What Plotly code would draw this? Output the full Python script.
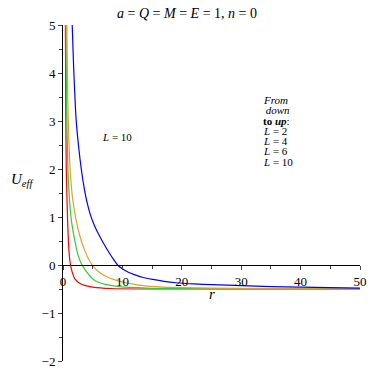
import plotly.graph_objects as go

# Effective potential curves
r_L2 = [0.36, 0.4, 0.48, 0.55, 0.77, 1.0, 1.15, 1.3, 1.6, 2.0, 2.8, 3.8, 5.0, 8, 15, 25, 50]
u_L2 = [5.6, 5.0, 3.0, 2.0, 0.94, 0.3, 0.1, -0.02, -0.17, -0.29, -0.38, -0.43, -0.46, -0.49, -0.5, -0.5, -0.5]

r_L4 = [0.45, 0.5, 0.6, 0.83, 1.1, 1.4, 2.0, 2.5, 3.0, 3.4, 4.2, 5.0, 6.0, 7.3, 9.5, 14, 20, 30, 50]
u_L4 = [5.6, 5.0, 3.4, 2.0, 1.35, 0.94, 0.5, 0.22, 0.05, -0.04, -0.18, -0.29, -0.36, -0.41, -0.45, -0.48, -0.49, -0.5, -0.5]

r_L6 = [0.58, 0.65, 0.8, 1.0, 1.2, 1.6, 2.2, 2.8, 3.6, 4.2, 4.9, 6.0, 7.3, 9, 11, 13.5, 16.8, 20, 25, 35, 50]
u_L6 = [5.6, 5.0, 3.5, 2.55, 2.0, 1.4, 0.94, 0.62, 0.32, 0.15, 0.0, -0.14, -0.24, -0.32, -0.38, -0.43, -0.46, -0.47, -0.48, -0.49, -0.5]

r_L10 = [1.4, 1.55, 1.8, 2.2, 2.6, 3.1, 3.6, 4.0, 4.6, 5.3, 6.0, 6.7, 7.8, 8.6, 9.2, 10, 11, 12,
         13.5, 15.1, 17, 19, 22, 25, 30, 35, 40, 45, 50]
u_L10 = [5.6, 5.0, 4.1, 3.05, 2.5, 1.98, 1.58, 1.33, 1.05, 0.82, 0.64, 0.48, 0.25, 0.1, 0.0, -0.08, -0.15, -0.2,
         -0.26, -0.3, -0.34, -0.37, -0.395, -0.41, -0.43, -0.45, -0.46, -0.47, -0.48]

curves = [
    (r_L2, u_L2, "#ff0000"),
    (r_L4, u_L4, "#33cc33"),
    (r_L6, u_L6, "#e0a030"),
    (r_L10, u_L10, "#0000ff"),
]
note_lines = ["<i>From</i>", " <i>down</i>", "<b>to</b> <i><b>up</b></i>:",
              "<i>L</i> = 2", "<i>L</i> = 4", "<i>L</i> = 6", "<i>L</i> = 10"]

FONT = "Liberation Serif"

fig = go.Figure()
for r, u, c in curves:
    fig.add_trace(go.Scatter(x=r, y=u, mode="lines", line=dict(color=c, width=1.2, shape="spline", smoothing=0.7),
                             showlegend=False, hoverinfo="skip"))

fig.update_layout(
    width=374, height=374, template="simple_white",
    margin=dict(l=63, r=14, t=25, b=13, autoexpand=False),
    font=dict(family=FONT, size=13, color="black"),
    title=dict(text="<i>a</i> = <i>Q</i> = <i>M</i> = <i>E</i> = 1, <i>n</i> = 0", x=0.5, xref="container",
               y=1 - 13 / 374, yref="container", yanchor="middle", font=dict(size=14), automargin=False),
    plot_bgcolor="white", paper_bgcolor="white",
)
fig.update_xaxes(range=[0, 50], anchor="free", position=2 / 7, dtick=10, ticks="outside", ticklen=4,
                 minor=dict(dtick=5, ticks="outside", ticklen=3), showline=True, linecolor="black",
                 showgrid=False, zeroline=False, automargin=False)
fig.update_yaxes(range=[-2, 5], dtick=1, ticks="outside", ticklen=4,
                 minor=dict(dtick=0.5, ticks="outside", ticklen=3), showline=True, linecolor="black",
                 showgrid=False, zeroline=False, automargin=False)

fig.add_annotation(text="<i>U<sub>eff</sub></i>", x=-0.138, y=0.54, xref="paper", yref="paper",
                   xanchor="center", showarrow=False, font=dict(size=15))
fig.add_annotation(text="<i>r</i>", x=25, y=-0.6, showarrow=False, font=dict(size=15))
fig.add_annotation(text="<i>L</i> = 10", x=6.3, y=2.67, showarrow=False, xanchor="left", font=dict(size=11))
for i, line in enumerate(note_lines):
    fig.add_annotation(text=line, x=33.3, y=3.44 - i * 0.215, showarrow=False, xanchor="left",
                       font=dict(size=11))

fig.write_html("out.html", config={"displayModeBar": False},
               post_script="document.body.style.margin='0';")
